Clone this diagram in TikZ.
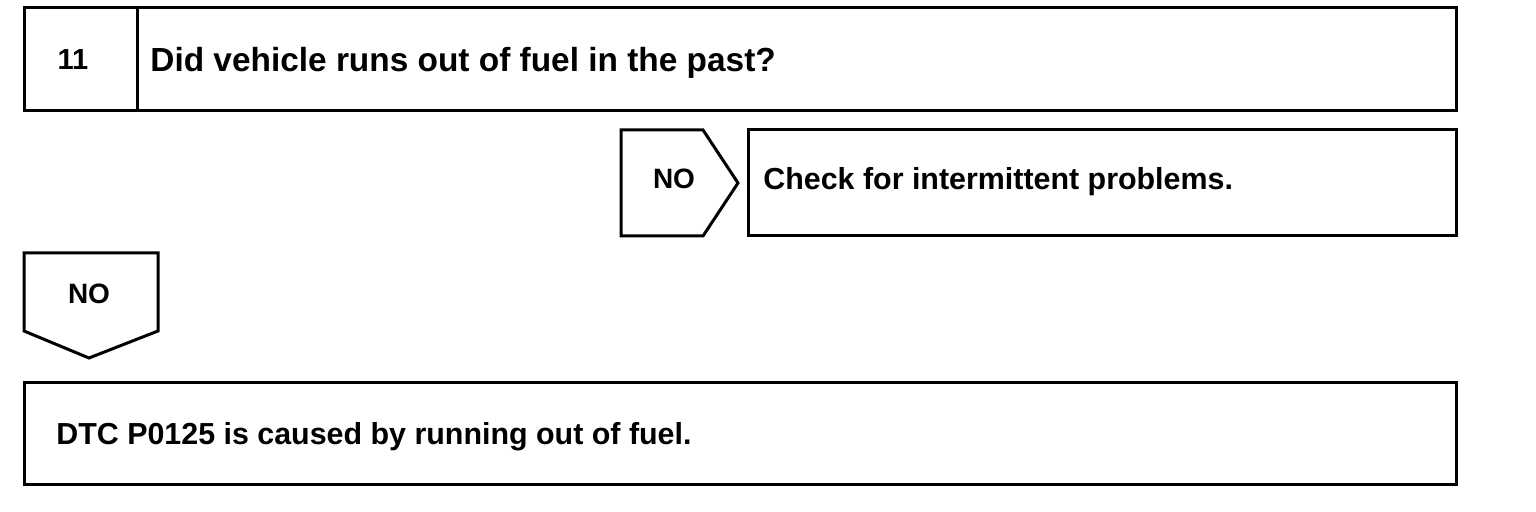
\documentclass[tikz,border=0pt]{standalone}
\usepackage{fontspec}
\setmainfont{Liberation Sans}
\usetikzlibrary{positioning,calc}

\tikzset{
    frame/.style={draw, line width=1.5pt, line join=miter},
    label/.style={inner sep=0pt, font=\bfseries\fontsize{15.2}{18}\selectfont},
    tag/.style={inner sep=0pt, anchor=base, font=\bfseries\fontsize{14}{17}\selectfont},
}

\begin{document}
\begin{tikzpicture}[x=0.5pt, y=-0.5pt]
    \useasboundingbox (0,0) rectangle (1536,512);

    % Step 11
    \draw[frame] (24,8) rectangle (1456,111);
    \draw[frame] (137,8) -- (137,111);
    \node[tag, font=\bfseries\fontsize{14.5}{17}\selectfont] (step) at (73,70) {11};
    \node[label, anchor=base west, font=\bfseries\fontsize{16.7}{20}\selectfont] (question) at (150,72) {Did vehicle runs out of fuel in the past?};

    % NO branch to the right
    \draw[frame] (621,130) -- (703,130) -- (738,183) -- (703,236) -- (621,236) -- cycle;
    \node[tag] (noright) at (674,189) {NO};
    \draw[frame] (748,130) rectangle (1456,236);
    \node[label, anchor=base west] (check) at (763,190) {Check for intermittent problems.};

    % NO branch downwards
    \draw[frame] (24,253) -- (158,253) -- (158,331) -- (89,358) -- (24,331) -- cycle;
    \node[tag] (nodown) at (89,304) {NO};
    \draw[frame] (24,383) rectangle (1456,485);
    \node[label, anchor=base west] (result) at (56,445) {DTC P0125 is caused by running out of fuel.};
\end{tikzpicture}
\end{document}
